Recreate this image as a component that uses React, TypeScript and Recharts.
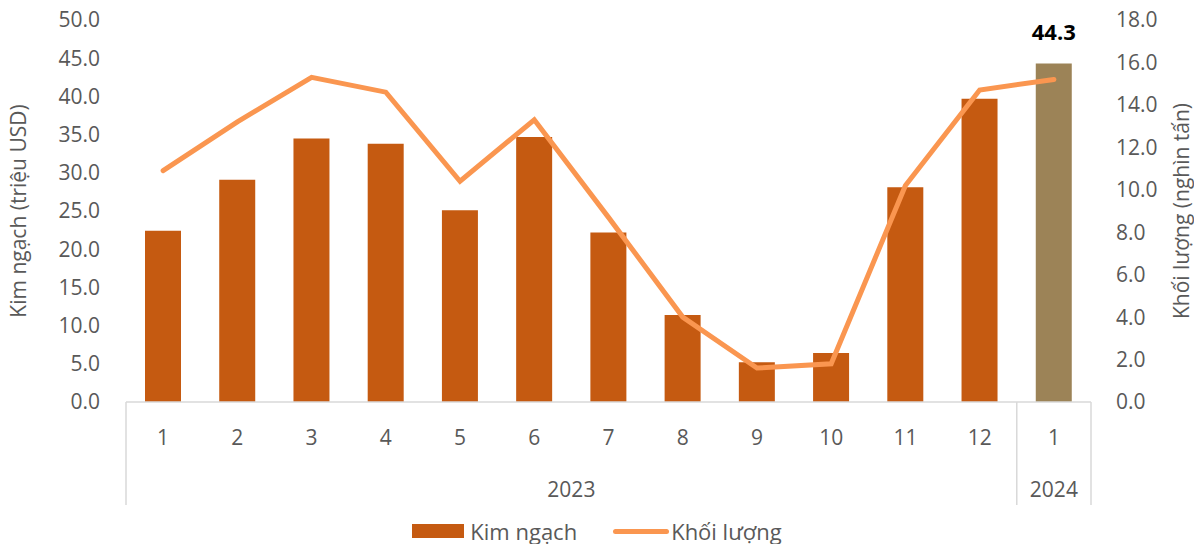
import React from "react";
import {
  ComposedChart,
  Bar,
  Line,
  XAxis,
  YAxis,
  Cell,
  LabelList,
  Legend,
} from "recharts";

if (typeof document !== "undefined") document.body.style.margin = "0";

const months = ["1", "2", "3", "4", "5", "6", "7", "8", "9", "10", "11", "12", "1"];
const years = [
  "2023", "2023", "2023", "2023", "2023", "2023",
  "2023", "2023", "2023", "2023", "2023", "2023", "2024",
];
// Kim ngạch (triệu USD)
const kimNgach = [22.4, 29.1, 34.5, 33.8, 25.1, 34.7, 22.2, 11.4, 5.2, 6.4, 28.1, 39.7, 44.3];
// Khối lượng (nghìn tấn)
const khoiLuong = [10.9, 13.2, 15.3, 14.6, 10.4, 13.3, 8.7, 4.0, 1.6, 1.8, 10.2, 14.7, 15.2];

const leftTicks = [0, 5, 10, 15, 20, 25, 30, 35, 40, 45, 50];
const rightTicks = [0, 2, 4, 6, 8, 10, 12, 14, 16, 18];

const FONT = "'Open Sans', sans-serif";
const TEXT = "#595959";
const GRID = "#D9D9D9";
const BAR = "#C55A11";
const BAR_LAST = "#9C8357";
const LINE = "#FA9650";

const data = months.map((m, i) => ({
  month: m,
  year: years[i],
  kimNgach: kimNgach[i],
  khoiLuong: khoiLuong[i],
}));

function CategoryTick(props: any) {
  const { x, y, payload, index } = props;
  const half = payload?.offset ?? 37;
  const i = index ?? payload?.index ?? 0;
  const groupStart = i === 0 || years[i] !== years[i - 1];
  let groupLen = 1;
  while (i + groupLen < years.length && years[i + groupLen] === years[i]) groupLen++;
  const left = x - half;
  return (
    <g>
      <text x={x} y={y + 43} textAnchor="middle" fill={TEXT} fontSize={21} fontFamily={FONT}>
        {payload.value}
      </text>
      {groupStart && (
        <>
          <line x1={left} y1={y} x2={left} y2={y + 103} stroke={GRID} strokeWidth={1.5} />
          <text
            x={left + groupLen * half}
            y={y + 95}
            textAnchor="middle"
            fill={TEXT}
            fontSize={21}
            fontFamily={FONT}
          >
            {years[i]}
          </text>
        </>
      )}
      {i === years.length - 1 && (
        <line x1={x + half} y1={y} x2={x + half} y2={y + 103} stroke={GRID} strokeWidth={1.5} />
      )}
    </g>
  );
}

function LastLabel(props: any) {
  const { x, y, width, index, value } = props;
  if (index !== kimNgach.length - 1) return null;
  return (
    <text
      x={x + width / 2}
      y={y - 24}
      textAnchor="middle"
      fontWeight="bold"
      fontSize={22}
      fontFamily={FONT}
      fill="#000"
    >
      {Number(value).toFixed(1)}
    </text>
  );
}

function LegendContent() {
  return (
    <div
      style={{
        display: "flex",
        justifyContent: "center",
        alignItems: "center",
        gap: 36,
        paddingTop: 12,
        fontFamily: FONT,
        fontSize: 22,
        color: TEXT,
      }}
    >
      <span style={{ display: "flex", alignItems: "center", gap: 6 }}>
        <span style={{ width: 52, height: 14, background: BAR, display: "inline-block" }} />
        Kim ngạch
      </span>
      <span style={{ display: "flex", alignItems: "center", gap: 2 }}>
        <span
          style={{ width: 56, height: 5, borderRadius: 3, background: LINE, display: "inline-block" }}
        />
        Khối lượng
      </span>
    </div>
  );
}

export default function App() {
  return (
    <ComposedChart
      width={1194}
      height={544}
      data={data}
      margin={{ top: 20, right: 0, bottom: 0, left: 0 }}
    >
      <XAxis
        dataKey="month"
        interval={0}
        tickLine={false}
        tickSize={0}
        tickMargin={0}
        height={102}
        axisLine={{ stroke: GRID, strokeWidth: 1.5 }}
        tick={<CategoryTick />}
      />
      <YAxis
        yAxisId="left"
        domain={[0, 50]}
        ticks={leftTicks}
        width={126}
        axisLine={false}
        tickLine={false}
        tickSize={0}
        tickMargin={26}
        tickFormatter={(v: number) => v.toFixed(1)}
        tick={{ fill: TEXT, fontSize: 21, fontFamily: FONT }}
        label={({ viewBox }: any) => (
          <text
            x={viewBox.x + 18}
            y={viewBox.y + viewBox.height / 2}
            transform={`rotate(-90, ${viewBox.x + 18}, ${viewBox.y + viewBox.height / 2})`}
            textAnchor="middle"
            dominantBaseline="central"
            fill={TEXT}
            fontSize={21}
            fontFamily={FONT}
          >
            Kim ngạch (triệu USD)
          </text>
        )}
      />
      <YAxis
        yAxisId="right"
        orientation="right"
        domain={[0, 18]}
        ticks={rightTicks}
        width={103}
        axisLine={false}
        tickLine={false}
        tickSize={0}
        tickMargin={25}
        tickFormatter={(v: number) => v.toFixed(1)}
        tick={{ fill: TEXT, fontSize: 21, fontFamily: FONT }}
        label={({ viewBox }: any) => (
          <text
            x={viewBox.x + 90}
            y={viewBox.y + viewBox.height / 2}
            transform={`rotate(-90, ${viewBox.x + 90}, ${viewBox.y + viewBox.height / 2})`}
            textAnchor="middle"
            dominantBaseline="central"
            fill={TEXT}
            fontSize={21}
            fontFamily={FONT}
          >
            Khối lượng (nghìn tấn)
          </text>
        )}
      />
      <Legend verticalAlign="bottom" height={40} content={<LegendContent />} />
      <Bar yAxisId="left" dataKey="kimNgach" name="Kim ngạch" barSize={36} isAnimationActive={false}>
        {data.map((d, i) => (
          <Cell key={i} fill={i === data.length - 1 ? BAR_LAST : BAR} />
        ))}
        <LabelList dataKey="kimNgach" content={<LastLabel />} />
      </Bar>
      <Line
        yAxisId="right"
        dataKey="khoiLuong"
        name="Khối lượng"
        type="linear"
        stroke={LINE}
        strokeWidth={5}
        strokeLinecap="round"
        dot={false}
        isAnimationActive={false}
      />
    </ComposedChart>
  );
}
